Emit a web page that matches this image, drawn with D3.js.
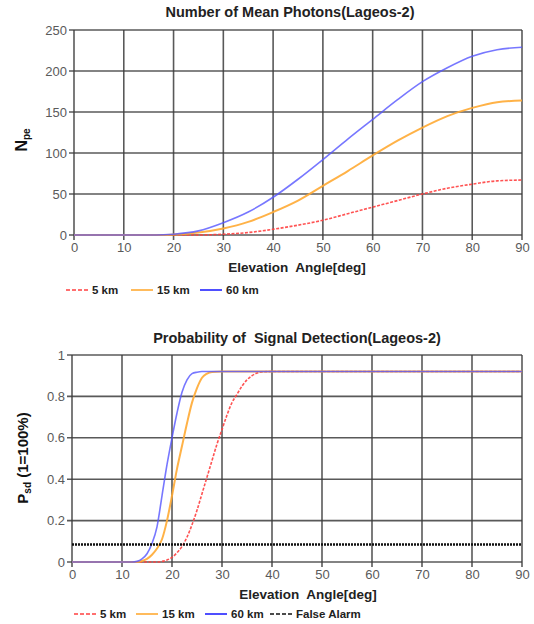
<!DOCTYPE html>
<html>
<head>
<meta charset="utf-8">
<script src="https://cdn.jsdelivr.net/npm/d3@7"></script>
<style>
  body { margin: 0; background: #fff; }
  text { font-family: "Liberation Sans", Arial, sans-serif; }
</style>
</head>
<body>
<svg id="chart" width="534" height="624"></svg>
<script>
// top chart: mean photons vs elevation
const photonAngles = [0, 10, 15, 18, 20, 25, 30, 35, 40, 45, 50, 55, 60, 65, 70, 75, 80, 85, 90];
const photons5km  = [0, 0, 0, 0, 0, 0, 1, 3, 7, 12, 18, 26, 34, 42, 50, 57, 62, 66, 67];
const photons15km = [0, 0, 0, 0, 0.5, 3, 8, 16, 28, 42, 60, 78, 97, 115, 131, 145, 155, 162, 164];
const photons60km = [0, 0, 0, 0.3, 1, 5, 15, 28, 46, 68, 92, 117, 141, 165, 187, 204, 218, 226, 229];

// bottom chart: detection probability vs elevation
const probAngles5km = [0, 10, 17, 18, 19, 20, 21, 22, 23, 24, 25, 26, 27, 28, 29, 30, 31, 32, 33, 34, 35, 36, 37, 38, 40, 90];
const prob5km = [0, 0, 0, 0.003, 0.01, 0.022, 0.045, 0.075, 0.12, 0.18, 0.25, 0.33, 0.41, 0.49, 0.57, 0.64, 0.71, 0.77, 0.81, 0.85, 0.88, 0.9, 0.913, 0.918, 0.92, 0.92];
const probAngles15km = [0, 10, 13, 14, 15, 16, 17, 18, 19, 20, 21, 22, 23, 24, 25, 26, 27, 28, 30, 90];
const prob15km = [0, 0, 0, 0.005, 0.015, 0.035, 0.065, 0.11, 0.2, 0.32, 0.45, 0.56, 0.67, 0.77, 0.84, 0.89, 0.91, 0.918, 0.92, 0.92];
const probAngles60km = [0, 10, 12, 13, 14, 15, 16, 17, 18, 19, 20, 21, 22, 23, 24, 25, 26, 28, 90];
const prob60km = [0, 0, 0, 0.003, 0.015, 0.04, 0.09, 0.17, 0.32, 0.47, 0.6, 0.72, 0.82, 0.88, 0.91, 0.917, 0.92, 0.92, 0.92];
const falseAlarm = 0.084;

const xTicks = d3.range(0, 91, 10);
const photonTicks = [0, 50, 100, 150, 200, 250];
const probTicks = [0, 0.2, 0.4, 0.6, 0.8, 1];

const colors = {"5 km": "#ff4040", "15 km": "#ffaa33", "60 km": "#5555ff"};

const svg = d3.select("#chart");

function drawPanel(cfg) {
  const x = d3.scaleLinear().domain([0, 90]).range([cfg.left, cfg.right]);
  const y = d3.scaleLinear().domain(cfg.yDomain).range([cfg.bottom, cfg.top]);
  const g = svg.append("g");

  // grid
  g.append("g").selectAll("line").data(xTicks).enter().append("line")
    .attr("x1", d => x(d)).attr("x2", d => x(d))
    .attr("y1", cfg.top).attr("y2", cfg.bottom + 5)
    .attr("stroke", "#3c3c3c").attr("stroke-width", 1.6).attr("stroke-opacity", 0.85);
  g.append("g").selectAll("line").data(cfg.yTicks).enter().append("line")
    .attr("x1", cfg.left - 5).attr("x2", cfg.right)
    .attr("y1", d => y(d)).attr("y2", d => y(d))
    .attr("stroke", "#3c3c3c").attr("stroke-width", 1.6).attr("stroke-opacity", 0.85);

  const xAxis = d3.axisBottom(x).tickValues(xTicks).tickSize(0).tickPadding(8);
  g.append("g").attr("transform", `translate(0,${cfg.bottom})`).call(xAxis)
    .call(a => a.select(".domain").remove())
    .selectAll("text").attr("font-size", 13).attr("fill", "#5a5a5a")
    .attr("font-family", "Liberation Sans, Arial, sans-serif");

  const yAxis = d3.axisLeft(y).tickValues(cfg.yTicks).tickSize(0).tickPadding(7)
    .tickFormat(cfg.yFormat);
  g.append("g").attr("transform", `translate(${cfg.left},0)`).call(yAxis)
    .call(a => a.select(".domain").remove())
    .selectAll("text").attr("font-size", 13).attr("fill", "#5a5a5a")
    .attr("font-family", "Liberation Sans, Arial, sans-serif");

  g.append("text").attr("x", cfg.titleX).attr("y", cfg.titleY)
    .attr("text-anchor", "middle").attr("font-size", 14.5).attr("font-weight", "bold")
    .attr("fill", "#222").attr("xml:space", "preserve").text(cfg.title);

  g.append("text").attr("x", cfg.xTitleX).attr("y", cfg.bottom + 37)
    .attr("text-anchor", "middle").attr("font-size", 13.5).attr("font-weight", "bold")
    .attr("fill", "#222").attr("xml:space", "preserve").text("Elevation  Angle[deg]");

  const line = d3.line().x(d => x(d[0])).y(d => y(d[1])).curve(d3.curveMonotoneX);
  cfg.series.forEach(s => {
    g.append("path").datum(d3.zip(s.x, s.y))
      .attr("fill", "none").attr("stroke", colors[s.name])
      .attr("stroke-width", s.name === "15 km" ? 2 : 1.6)
      .attr("stroke-opacity", s.name === "60 km" ? 0.8 : 0.9)
      .attr("stroke-dasharray", s.name === "5 km" ? "3,1.5" : null)
      .attr("d", line);
  });
  return {x, y, g};
}

// top panel
const topPanel = drawPanel({
  left: 74, right: 522, top: 30, bottom: 235,
  yDomain: [0, 250], yTicks: photonTicks, yFormat: d3.format("d"),
  title: "Number of Mean Photons(Lageos-2)", titleX: 290, titleY: 17, xTitleX: 297,
  series: [
    {name: "5 km", x: photonAngles, y: photons5km},
    {name: "15 km", x: photonAngles, y: photons15km},
    {name: "60 km", x: photonAngles, y: photons60km}
  ]
});
const npe = topPanel.g.append("text").attr("transform", "translate(27,140) rotate(-90)")
  .attr("text-anchor", "middle").attr("font-weight", "bold").attr("fill", "#111");
npe.append("tspan").attr("font-size", 16).text("N");
npe.append("tspan").attr("font-size", 10).attr("dy", 3).text("pe");

// bottom panel
const botPanel = drawPanel({
  left: 72, right: 522, top: 355, bottom: 562,
  yDomain: [0, 1], yTicks: probTicks, yFormat: d => d === 0 || d === 1 ? String(d) : d3.format(".1f")(d),
  title: "Probability of  Signal Detection(Lageos-2)", titleX: 297, titleY: 343, xTitleX: 308,
  series: [
    {name: "5 km", x: probAngles5km, y: prob5km},
    {name: "15 km", x: probAngles15km, y: prob15km},
    {name: "60 km", x: probAngles60km, y: prob60km}
  ]
});
botPanel.g.append("line")
  .attr("x1", botPanel.x(0)).attr("x2", botPanel.x(90))
  .attr("y1", botPanel.y(falseAlarm)).attr("y2", botPanel.y(falseAlarm))
  .attr("stroke", "#111").attr("stroke-width", 2.5).attr("stroke-dasharray", "2,1");
const psd = botPanel.g.append("text").attr("transform", "translate(28,458) rotate(-90)")
  .attr("text-anchor", "middle").attr("font-weight", "bold").attr("fill", "#111");
psd.append("tspan").attr("font-size", 15).text("P");
psd.append("tspan").attr("font-size", 10).attr("dy", 3).text("sd");
psd.append("tspan").attr("font-size", 15).attr("dy", -3).text(" (1=100%)");

// legends
function legend(items, y) {
  const lg = svg.append("g");
  items.forEach(it => {
    lg.append("line").attr("x1", it.x).attr("x2", it.x + 22).attr("y1", y).attr("y2", y)
      .attr("stroke", it.color).attr("stroke-width", 1.6)
      .attr("stroke-dasharray", it.dash);
    lg.append("text").attr("x", it.x + 26).attr("y", y + 4)
      .attr("font-size", 11.5).attr("font-weight", "bold").attr("fill", "#222")
      .text(it.label);
  });
}
legend([
  {x: 66, label: "5 km", color: colors["5 km"], dash: "4,2"},
  {x: 131, label: "15 km", color: colors["15 km"], dash: null},
  {x: 200, label: "60 km", color: "#2222ff", dash: null}
], 290);
legend([
  {x: 74, label: "5 km", color: colors["5 km"], dash: "4,2"},
  {x: 136, label: "15 km", color: colors["15 km"], dash: null},
  {x: 205, label: "60 km", color: "#2222ff", dash: null},
  {x: 270, label: "False Alarm", color: "#111", dash: "4,2"}
], 614);
</script>
</body>
</html>
